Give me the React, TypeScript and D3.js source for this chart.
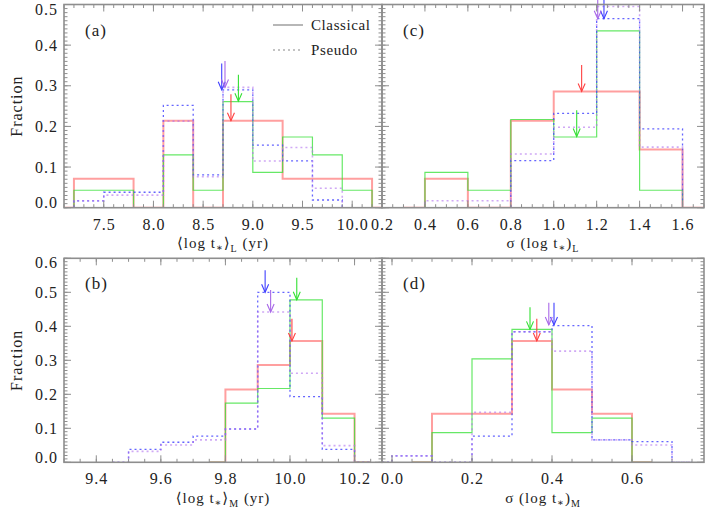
import React from "react";
import * as d3 from "d3";

// series order everywhere: red (classical), green (classical), blue (pseudo), purple (pseudo)

// ---- panel (a): <log t*>_L ----
const binsA = [6.9, 7.2, 7.5, 7.8, 8.1, 8.4, 8.7, 9.0, 9.3, 9.6, 9.9, 10.2];
const redA = [0, 0.071, 0.071, 0, 0.214, 0, 0.214, 0.214, 0.071, 0.071, 0.071, 0];
const greenA = [0, 0.043, 0.043, 0, 0.13, 0.043, 0.261, 0.087, 0.174, 0.13, 0.043, 0];
const blueA = [0, 0.017, 0.038, 0.038, 0.252, 0.081, 0.29, 0.154, 0.115, 0.019, 0, null];
const purpleA = [0, 0.017, 0.031, 0.031, 0.213, 0.076, 0.296, 0.115, 0.148, 0.048, 0, null];
const arrowXA = [8.78, 8.855, 8.687, 8.72];
const arrowTipA = [0.214, 0.262, 0.29, 0.296];
const xTicksA = [7.5, 8.0, 8.5, 9.0, 9.5, 10.0];
const xLabelsA = ["7.5", "8.0", "8.5", "9.0", "9.5", "10.0"];

// ---- panel (c): sigma(log t*)_L ----
const binsC = [0.2, 0.4, 0.6, 0.8, 1.0, 1.2, 1.4, 1.6];
const redC = [0, 0.071, 0, 0.214, 0.286, 0.286, 0.143, 0];
const greenC = [0, 0.087, 0.043, 0.217, 0.174, 0.435, 0.043, 0];
const blueC = [null, 0, 0, 0.116, 0.232, 0.465, 0.194, 0];
const purpleC = [0, 0.017, 0.017, 0.132, 0.198, 0.495, 0.149, 0];
const arrowXC = [1.13, 1.107, 1.234, 1.205];
const arrowTipC = [0.286, 0.175, 0.465, 0.465];
const xTicksC = [0.2, 0.4, 0.6, 0.8, 1.0, 1.2, 1.4, 1.6];
const xLabelsC = ["0.2", "0.4", "0.6", "0.8", "1.0", "1.2", "1.4", "1.6"];

// ---- panel (b): <log t*>_M ----
const binsB = [9.4, 9.5, 9.6, 9.7, 9.8, 9.9, 10.0, 10.1, 10.2];
const redB = [null, null, null, 0, 0.214, 0.286, 0.357, 0.143, 0];
const greenB = [null, null, null, 0, 0.174, 0.217, 0.478, 0.13, 0];
const blueB = [0, 0.038, 0.059, 0.077, 0.098, 0.5, 0.193, 0.038, 0];
const purpleB = [0, 0.032, 0.051, 0.066, 0.098, 0.442, 0.262, 0.049, 0];
const arrowXB = [10.006, 10.021, 9.923, 9.94];
const arrowTipB = [0.357, 0.478, 0.5, 0.442];
const xTicksB = [9.4, 9.6, 9.8, 10.0, 10.2];
const xLabelsB = ["9.4", "9.6", "9.8", "10.0", "10.2"];

// ---- panel (d): sigma(log t*)_M ----
const binsD = [-0.1, 0.0, 0.1, 0.2, 0.3, 0.4, 0.5, 0.6, 0.7];
const redD = [null, 0, 0.143, 0.143, 0.357, 0.214, 0.143, 0, null];
const greenD = [null, 0, 0.087, 0.304, 0.391, 0.087, 0.13, 0, null];
const blueD = [0, 0.019, 0, 0.077, 0.384, 0.402, 0.066, 0.061, 0];
const purpleD = [0, 0.019, 0, 0.147, 0.384, 0.327, 0.066, 0.051, 0];
const arrowXD = [0.362, 0.345, 0.405, 0.392];
const arrowTipD = [0.357, 0.391, 0.404, 0.404];
const xTicksD = [0.0, 0.2, 0.4, 0.6];
const xLabelsD = ["0.0", "0.2", "0.4", "0.6"];

// y axes
const yTicksTop = [0, 0.1, 0.2, 0.3, 0.4, 0.5];
const yLabelsTop = ["0.0", "0.1", "0.2", "0.3", "0.4", "0.5"];
const yTicksBot = [0, 0.1, 0.2, 0.3, 0.4, 0.5, 0.6];
const yLabelsBot = ["0.0", "0.1", "0.2", "0.3", "0.4", "0.5", "0.6"];

const FONT = "'Liberation Serif', 'DejaVu Serif', serif";
const FRAME = "#8e8e8e";

const lineStyles = [
  { stroke: "#ff5050", width: 2, opacity: 0.55, dash: undefined },
  { stroke: "#33e033", width: 1.2, opacity: 0.75, dash: undefined },
  { stroke: "#4a4aff", width: 1.3, opacity: 0.85, dash: "2,3" },
  { stroke: "#b070ee", width: 1.6, opacity: 0.6, dash: "2,3" },
];
const arrowColors = ["#ff4040", "#33e033", "#4040ff", "#a868e8"];

function minorRange(d0: number, d1: number, step: number) {
  const a = Math.ceil(d0 / step - 1e-6);
  const b = Math.floor(d1 / step + 1e-6);
  return d3.range(a, b + 1).map((i) => i * step);
}

type PanelProps = {
  id: string;
  left: number; right: number; top: number; bottom: number;
  xDomain: [number, number]; yDomain: [number, number];
  bins: number[]; binWidth: number;
  series: (number | null)[][];
  arrowX: number[]; arrowTip: number[];
  xTicks: number[]; xLabels: string[]; xMinor: number;
  yTicks: number[]; yLabels: string[] | null;
  tag: string;
};

function Panel(p: PanelProps) {
  const x = d3.scaleLinear().domain(p.xDomain).range([p.left, p.right]);
  const y = d3.scaleLinear().domain(p.yDomain).range([p.bottom, p.top]);

  // IDL psym=10 style step: starts/ends at the centre of the outer bins
  const stepPath = (vals: (number | null)[]) => {
    const idx = vals.map((v, i) => (v == null ? -1 : i)).filter((i) => i >= 0);
    const i0 = idx[0], i1 = idx[idx.length - 1];
    const pts: [number, number][] = [];
    pts.push([p.bins[i0] + p.binWidth / 2, vals[i0] as number]);
    for (let i = i0 + 1; i <= i1; i++) pts.push([p.bins[i], vals[i] as number]);
    pts.push([p.bins[i1] + p.binWidth / 2, vals[i1] as number]);
    return d3.line<[number, number]>()
      .x((d) => x(d[0]))
      .y((d) => y(d[1]))
      .curve(d3.curveStepAfter)(pts) || "";
  };

  const xMinorTicks = minorRange(p.xDomain[0], p.xDomain[1], p.xMinor);
  const yMinorTicks = minorRange(p.yDomain[0], p.yDomain[1], 0.01);
  const arrowLen = 0.065;

  return (
    <g>
      <defs>
        <clipPath id={"clip-" + p.id}>
          <rect x={p.left} y={p.top} width={p.right - p.left} height={p.bottom - p.top} />
        </clipPath>
      </defs>
      <g clipPath={`url(#clip-${p.id})`}>
        {p.series.map((s, k) => (
          <path key={k} d={stepPath(s)} fill="none"
            stroke={lineStyles[k].stroke} strokeWidth={lineStyles[k].width}
            strokeOpacity={lineStyles[k].opacity} strokeDasharray={lineStyles[k].dash} />
        ))}
      </g>

      {/* mean arrows */}
      {p.arrowX.map((ax, k) => {
        const px = x(ax), tipY = y(p.arrowTip[k]), topY = y(p.arrowTip[k] + arrowLen);
        return (
          <g key={"ar" + k} stroke={arrowColors[k]} strokeWidth={1.1} fill="none">
            <line x1={px} x2={px} y1={topY} y2={tipY} />
            <polyline points={`${px - 3.5},${tipY - 8} ${px},${tipY} ${px + 3.5},${tipY - 8}`} />
          </g>
        );
      })}

      {/* frame */}
      <rect x={p.left} y={p.top} width={p.right - p.left} height={p.bottom - p.top}
        fill="none" stroke={FRAME} strokeWidth={1.6} />

      {/* ticks on all four sides */}
      <g stroke={FRAME} strokeWidth={1}>
        {xMinorTicks.map((t, i) => (
          <g key={"xm" + i}>
            <line x1={x(t)} x2={x(t)} y1={p.bottom} y2={p.bottom - 3.5} />
            <line x1={x(t)} x2={x(t)} y1={p.top} y2={p.top + 3.5} />
          </g>
        ))}
        {p.xTicks.map((t, i) => (
          <g key={"xM" + i}>
            <line x1={x(t)} x2={x(t)} y1={p.bottom} y2={p.bottom - 7} />
            <line x1={x(t)} x2={x(t)} y1={p.top} y2={p.top + 7} />
          </g>
        ))}
        {yMinorTicks.map((t, i) => (
          <g key={"ym" + i}>
            <line x1={p.left} x2={p.left + 3.5} y1={y(t)} y2={y(t)} />
            <line x1={p.right} x2={p.right - 3.5} y1={y(t)} y2={y(t)} />
          </g>
        ))}
        {p.yTicks.map((t, i) => (
          <g key={"yM" + i}>
            <line x1={p.left} x2={p.left + 7} y1={y(t)} y2={y(t)} />
            <line x1={p.right} x2={p.right - 7} y1={y(t)} y2={y(t)} />
          </g>
        ))}
      </g>

      {/* tick labels */}
      <g fontFamily={FONT} fontSize={16} fill="#222" letterSpacing={1}>
        {p.xTicks.map((t, i) => (
          <text key={"xl" + i} x={x(t) + 0.5} y={p.bottom + 22} textAnchor="middle">{p.xLabels[i]}</text>
        ))}
        {p.yLabels && p.yTicks.map((t, i) => (
          <text key={"yl" + i} x={p.left - 6} textAnchor="end" dy="0.35em"
            y={Math.max(p.top + 4.5, Math.min(p.bottom - 5, y(t)))}>{p.yLabels![i]}</text>
        ))}
      </g>

      <text x={p.left + 21} y={p.top + 31} fontFamily={FONT} fontSize={17} fill="#222"
        letterSpacing={1}>{p.tag}</text>
    </g>
  );
}

export default function App() {
  const L = 64, M = 382, R = 704;
  const T1 = 4.5, B1 = 207.7, T2 = 258.3, B2 = 462.3;
  const sub = { fontSize: 10 };
  return (
    <svg width={711} height={508} style={{ position: "absolute", left: 0, top: 0, background: "#fff" }}>
      <Panel id="a" left={L} right={M} top={T1} bottom={B1} xDomain={[7.1, 10.3]} yDomain={[0, 0.5]}
        bins={binsA} binWidth={0.3} series={[redA, greenA, blueA, purpleA]}
        arrowX={arrowXA} arrowTip={arrowTipA} xTicks={xTicksA} xLabels={xLabelsA} xMinor={0.1}
        yTicks={yTicksTop} yLabels={yLabelsTop} tag="(a)" />
      <Panel id="c" left={M} right={R} top={T1} bottom={B1} xDomain={[0.2, 1.7]} yDomain={[0, 0.5]}
        bins={binsC} binWidth={0.2} series={[redC, greenC, blueC, purpleC]}
        arrowX={arrowXC} arrowTip={arrowTipC} xTicks={xTicksC} xLabels={xLabelsC} xMinor={0.05}
        yTicks={yTicksTop} yLabels={null} tag="(c)" />
      <Panel id="b" left={L} right={M} top={T2} bottom={B2} xDomain={[9.3, 10.285]} yDomain={[0, 0.6]}
        bins={binsB} binWidth={0.1} series={[redB, greenB, blueB, purpleB]}
        arrowX={arrowXB} arrowTip={arrowTipB} xTicks={xTicksB} xLabels={xLabelsB} xMinor={0.05}
        yTicks={yTicksBot} yLabels={yLabelsBot} tag="(b)" />
      <Panel id="d" left={M} right={R} top={T2} bottom={B2} xDomain={[-0.025, 0.78]} yDomain={[0, 0.6]}
        bins={binsD} binWidth={0.1} series={[redD, greenD, blueD, purpleD]}
        arrowX={arrowXD} arrowTip={arrowTipD} xTicks={xTicksD} xLabels={xLabelsD} xMinor={0.05}
        yTicks={yTicksBot} yLabels={null} tag="(d)" />

      {/* legend */}
      <line x1={273} x2={303} y1={25} y2={25} stroke="#888" strokeWidth={1.2} />
      <line x1={273} x2={303} y1={50} y2={50} stroke="#888" strokeWidth={1.2} strokeDasharray="2,3" />
      <g fontFamily={FONT} fontSize={15} fill="#222" letterSpacing={0.6}>
        <text x={311} y={30}>Classical</text>
        <text x={311} y={55}>Pseudo</text>
      </g>

      {/* axis titles */}
      <g fontFamily={FONT} fontSize={15} fill="#222" letterSpacing={1}>
        <text transform={`translate(22,${(T1 + B1) / 2}) rotate(-90)`} textAnchor="middle" fontSize={16}>Fraction</text>
        <text transform={`translate(22,${(T2 + B2) / 2}) rotate(-90)`} textAnchor="middle" fontSize={16}>Fraction</text>

        <text x={223} y={248} textAnchor="middle">⟨log  t<tspan {...sub} dy={3}>∗</tspan><tspan dy={-3}>⟩</tspan><tspan {...sub} dy={4}>L</tspan><tspan dy={-4}> (yr)</tspan></text>
        <text x={543} y={248} textAnchor="middle">σ  (log  t<tspan {...sub} dy={3}>∗</tspan><tspan dy={-3}>)</tspan><tspan {...sub} dy={4}>L</tspan></text>
        <text x={223} y={503} textAnchor="middle">⟨log  t<tspan {...sub} dy={3}>∗</tspan><tspan dy={-3}>⟩</tspan><tspan {...sub} dy={4}>M</tspan><tspan dy={-4}> (yr)</tspan></text>
        <text x={543} y={503} textAnchor="middle">σ  (log  t<tspan {...sub} dy={3}>∗</tspan><tspan dy={-3}>)</tspan><tspan {...sub} dy={4}>M</tspan></text>
      </g>
    </svg>
  );
}
